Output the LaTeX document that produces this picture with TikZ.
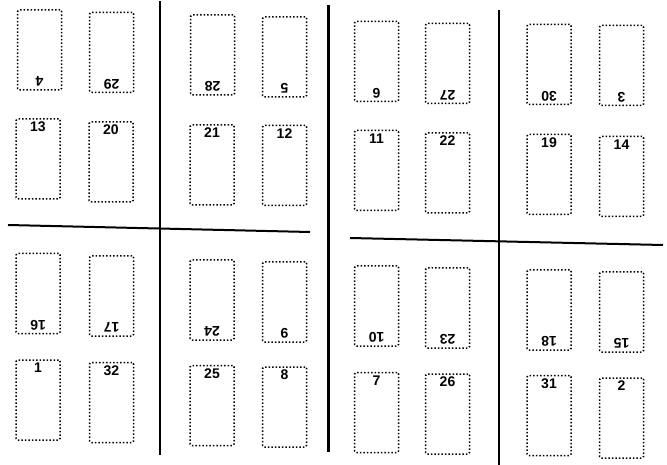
\documentclass[tikz,border=0pt]{standalone}
\usepackage{fontspec}
\setsansfont{Liberation Sans}
\usepackage{tikz}

\begin{document}
\begin{tikzpicture}[x=1pt,y=-1pt,
  pagina/.style={draw=black, dotted, line width=1.5pt, rounded corners=1.5pt,
    minimum width=44pt, minimum height=80pt, inner sep=0pt},
  numsu/.style={font=\sffamily\bfseries\fontsize{14}{14}\selectfont, anchor=north, inner sep=1pt, yshift=-2.5pt},
  numgiu/.style={font=\sffamily\bfseries\fontsize{14}{14}\selectfont, anchor=north, rotate=180, inner sep=1pt, yshift=-3pt},
  piega/.style={line width=1.2pt},
  taglio/.style={line width=3pt}]

% Area del foglio
\useasboundingbox (0,0) rectangle (667,465);

% Linee di piega e taglio
\draw[piega] (160,1) -- (160,455);
\draw[taglio] (328,5) -- (328,452);
\draw[piega] (499,10) -- (499,465);
\draw[line width=2pt] (8,225) -- (310,232);
\draw[line width=2pt] (350,238) -- (663,245);

% Quadrante alto sinistra
\node[pagina] (p4)  at (39.5,50)  {};
\node[pagina] (p29) at (111.5,52.5) {};
\node[pagina] (p28) at (212.5,55) {};
\node[pagina] (p5)  at (284.5,57) {};
\node[pagina] (p13) at (38,159)   {};
\node[pagina] (p20) at (111,162)  {};
\node[pagina] (p21) at (212,165)  {};
\node[pagina] (p12) at (284.5,165.5) {};

\node[numgiu] at (p4.south)  {4};
\node[numgiu] at (p29.south) {29};
\node[numgiu] at (p28.south) {28};
\node[numgiu] at (p5.south)  {5};
\node[numsu] at (p13.north) {13};
\node[numsu] at (p20.north) {20};
\node[numsu] at (p21.north) {21};
\node[numsu] at (p12.north) {12};

% Quadrante basso sinistra
\node[pagina] (p16) at (38,293.5)  {};
\node[pagina] (p17) at (111.5,296) {};
\node[pagina] (p24) at (212,300)   {};
\node[pagina] (p9)  at (284.5,302) {};
\node[pagina] (p1)  at (38,400)    {};
\node[pagina] (p32) at (111.5,402.5) {};
\node[pagina] (p25) at (212,405.5) {};
\node[pagina] (p8)  at (284.5,407) {};

\node[numgiu] at (p16.south) {16};
\node[numgiu] at (p17.south) {17};
\node[numgiu] at (p24.south) {24};
\node[numgiu] at (p9.south)  {9};
\node[numsu] at (p1.north)  {1};
\node[numsu] at (p32.north) {32};
\node[numsu] at (p25.north) {25};
\node[numsu] at (p8.north)  {8};

% Quadrante alto destra
\node[pagina] (p6)  at (376.5,61.5) {};
\node[pagina] (p27) at (447.5,63.5) {};
\node[pagina] (p30) at (549,64.5)   {};
\node[pagina] (p3)  at (621.5,65.5) {};
\node[pagina] (p11) at (376.5,170.5) {};
\node[pagina] (p22) at (447.5,173)  {};
\node[pagina] (p19) at (549,174.5)  {};
\node[pagina] (p14) at (621.5,176.5) {};

\node[numgiu] at (p6.south)  {6};
\node[numgiu] at (p27.south) {27};
\node[numgiu] at (p30.south) {30};
\node[numgiu] at (p3.south)  {3};
\node[numsu] at (p11.north) {11};
\node[numsu] at (p22.north) {22};
\node[numsu] at (p19.north) {19};
\node[numsu] at (p14.north) {14};

% Quadrante basso destra
\node[pagina] (p10) at (376.5,306) {};
\node[pagina] (p23) at (447.5,308) {};
\node[pagina] (p18) at (549,310)   {};
\node[pagina] (p15) at (621.5,312) {};
\node[pagina] (p7)  at (376.5,412.5) {};
\node[pagina] (p26) at (447.5,414) {};
\node[pagina] (p31) at (549,415.5) {};
\node[pagina] (p2)  at (621.5,418) {};

\node[numgiu] at (p10.south) {10};
\node[numgiu] at (p23.south) {23};
\node[numgiu] at (p18.south) {18};
\node[numgiu] at (p15.south) {15};
\node[numsu] at (p7.north)  {7};
\node[numsu] at (p26.north) {26};
\node[numsu] at (p31.north) {31};
\node[numsu] at (p2.north)  {2};

\end{tikzpicture}
\end{document}
